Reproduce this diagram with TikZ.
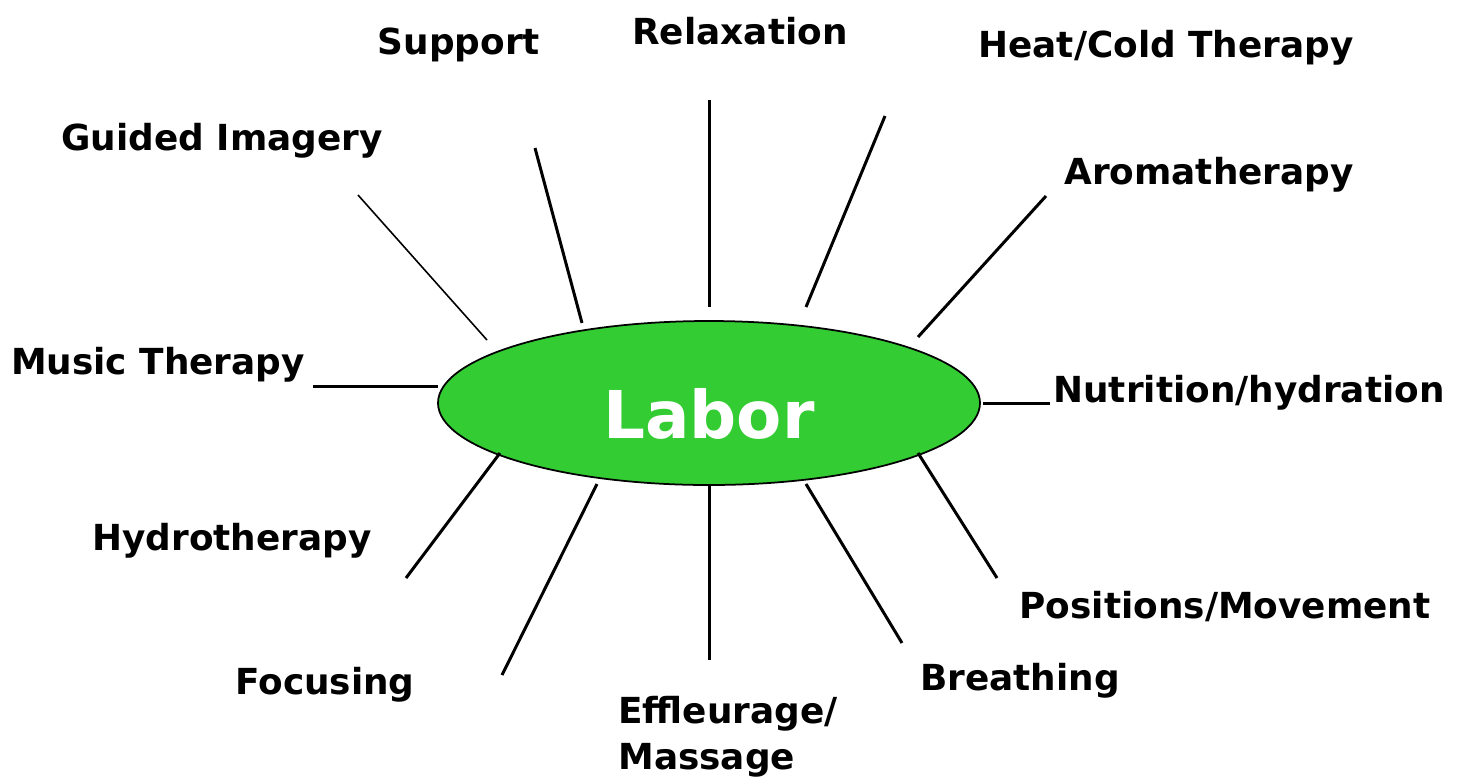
\documentclass[tikz,border=0pt]{standalone}
\usepackage{fontspec}
\setmainfont{DejaVu Sans}
\usetikzlibrary{shapes.geometric}
\definecolor{laborgreen}{HTML}{33CC33}
\begin{document}
\begin{tikzpicture}[x=0.02cm,y=-0.02cm,
  lbl/.style={font=\fontsize{20.4}{24}\selectfont\bfseries, inner sep=0pt, anchor=center},
  spoke/.style={line width=1.7pt},
  thinspoke/.style={line width=0.9pt}]
\useasboundingbox (0,0) rectangle (1460,782);
\node[ellipse, draw, line width=1pt, fill=laborgreen, minimum width=542*0.02cm, minimum height=164*0.02cm, inner sep=0pt] (labor) at (709,403) {};
\node[font=\fontsize{37.5}{40}\selectfont\bfseries, text=white] (labortxt) at (709,414) {Labor};

\node[lbl] (support) at (459,45) {Support};
\node[lbl] (relax) at (740,31) {Relaxation};
\node[lbl] (heat) at (1166,48) {Heat/Cold Therapy};
\node[lbl] (guided) at (222,141) {Guided Imagery};
\node[lbl] (aroma) at (1209,175) {Aromatherapy};
\node[lbl] (music) at (158,365) {Music Therapy};
\node[lbl] (nutri) at (1249,393) {Nutrition/hydration};
\node[lbl] (hydro) at (232,541) {Hydrotherapy};
\node[lbl] (pos) at (1225,607) {Positions/Movement};
\node[lbl] (focus) at (325,685) {Focusing};
\node[lbl] (breath) at (1020,681) {Breathing};
\node[lbl, anchor=north west, align=left, font=\fontsize{20.4}{26}\selectfont\bfseries] (effl) at (618,696) {Effleurage/\\Massage};

\coordinate (a1) at (709,100);  \coordinate (b1) at (709,307);
\coordinate (a2) at (885,116);  \coordinate (b2) at (806,307);
\coordinate (a3) at (1046,196); \coordinate (b3) at (918,337);
\coordinate (a4) at (1050,403); \coordinate (b4) at (983,403);
\coordinate (a5) at (997,578);  \coordinate (b5) at (918,453);
\coordinate (a6) at (902,643);  \coordinate (b6) at (806,484);
\coordinate (a7) at (709,660);  \coordinate (b7) at (709,484);
\coordinate (a8) at (502,675);  \coordinate (b8) at (597,484);
\coordinate (a9) at (406,578);  \coordinate (b9) at (500,453);
\coordinate (a10) at (313,386); \coordinate (b10) at (438,386);
\coordinate (a11) at (358,195); \coordinate (b11) at (487,340);
\coordinate (a12) at (535,148); \coordinate (b12) at (582,323);

\foreach \i in {1,...,10,12} { \draw[spoke] (a\i) -- (b\i); }
\draw[thinspoke] (a11) -- (b11);
\end{tikzpicture}
\end{document}
